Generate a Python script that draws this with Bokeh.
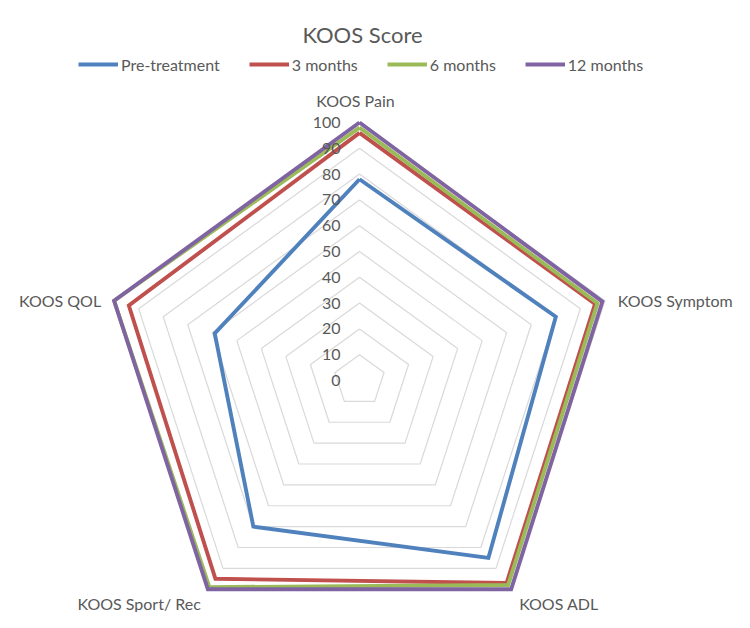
import numpy as np
from bokeh.plotting import figure
from bokeh.models import Range1d, Legend, LegendItem, Label
from bokeh.core.properties import value
from bokeh.embed import file_html
from bokeh.resources import INLINE

# ---- data ----
categories = ["KOOS Pain", "KOOS Symptom", "KOOS ADL", "KOOS Sport/ Rec", "KOOS QOL"]
pre_treatment = [78, 80, 85, 70, 59]
months_3 = [96, 96, 97, 95, 94]
months_6 = [98, 97, 98, 99, 100]
months_12 = [100, 99, 100, 100, 100]
series_names = ["Pre-treatment", "3 months", "6 months", "12 months"]
series_values = [pre_treatment, months_3, months_6, months_12]
series_colors = ["#4F81BD", "#C0504D", "#9BBB59", "#8064A2"]
ring_values = [10, 20, 30, 40, 50, 60, 70, 80, 90, 100]
tick_labels = ["0", "10", "20", "30", "40", "50", "60", "70", "80", "90", "100"]

FONT = "Lato"
TXT = "#595959"
W, H = 734, 612
K = 2.58            # pixels per value unit
CX, CY = 359, 380   # centre in figure pixels (from top-left)

angles = np.deg2rad(90 - 72 * np.arange(len(categories)))

p = figure(width=W, height=H, output_backend="svg", toolbar_location=None,
           x_range=Range1d(-CX / K, (W - CX) / K),
           y_range=Range1d(-(H - CY) / K, CY / K),
           min_border=0, outline_line_color=None)
p.axis.visible = False
p.grid.visible = False
p.background_fill_color = "white"
p.border_fill_color = "white"

def px(x):
    return (x - CX) / K

def py(y):
    return (CY - y) / K

# grid rings
for r in ring_values:
    xs = list(r * np.cos(angles)) + [r * np.cos(angles[0])]
    ys = list(r * np.sin(angles)) + [r * np.sin(angles[0])]
    p.line(xs, ys, line_color="#D9D9D9", line_width=1.2)

# series
renderers = []
for name, vals, col in zip(series_names, series_values, series_colors):
    v = np.array(vals, dtype=float)
    xs = list(v * np.cos(angles)) + [v[0] * np.cos(angles[0])]
    ys = list(v * np.sin(angles)) + [v[0] * np.sin(angles[0])]
    r = p.line(xs, ys, line_color=col, line_width=3.9, line_join="miter")
    renderers.append(r)

# tick labels along vertical axis
tick_vals = [0] + ring_values
p.text(x=[px(340)] * len(tick_vals), y=tick_vals, text=tick_labels,
       text_align="right", text_baseline="middle", text_font=value(FONT),
       text_font_size="16px", text_color=TXT)

# category labels
R = 100
lab_specs = [
    (0, -4 / K, 13 / K, "center", "bottom"),
    (1, 13 / K, 0, "left", "middle"),
    (2, 8 / K, -14 / K, "left", "middle"),
    (3, -7 / K, -14 / K, "right", "middle"),
    (4, -13 / K, 0, "right", "middle"),
]
for i, dx, dy, al, bl in lab_specs:
    x = R * np.cos(angles[i]) + dx
    y = R * np.sin(angles[i]) + dy
    p.text(x=[x], y=[y], text=[categories[i]], text_align=al, text_baseline=bl,
           text_font=value(FONT), text_font_size="16px", text_color=TXT)

# title
p.add_layout(Label(x=px(362), y=py(34), text="KOOS Score", text_align="center",
                   text_baseline="middle", text_font=FONT, text_font_size="22px",
                   text_color=TXT))

legend = Legend(items=[LegendItem(label=n, renderers=[r]) for n, r in zip(series_names, renderers)],
                orientation="horizontal", location=(78, H - 64 - 10),
                glyph_width=40, glyph_height=20, label_height=20, label_standoff=3,
                spacing=29, padding=0, margin=0, border_line_color=None,
                background_fill_alpha=0, label_text_font=FONT,
                label_text_font_size="16px", label_text_color=TXT)
p.add_layout(legend)

open("out.html", "w").write(file_html(p, INLINE))
